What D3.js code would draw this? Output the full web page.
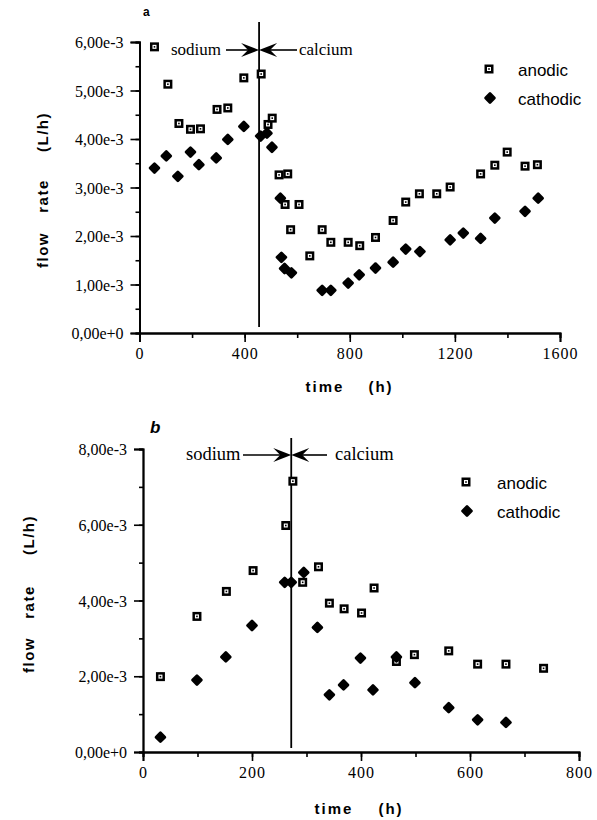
<!DOCTYPE html>
<html>
<head>
<meta charset="utf-8">
<script src="https://cdn.jsdelivr.net/npm/d3@7"></script>
<style>
  html, body { margin: 0; padding: 0; background: #fff; }
  svg { display: block; }
  .serif { font-family: "Liberation Serif", "DejaVu Serif", "Times New Roman", serif; }
  .sans { font-family: "Liberation Sans", Arial, Helvetica, sans-serif; }
</style>
</head>
<body>
<svg id="chart" width="597" height="820"></svg>
<script>
// ---------- DATA ----------
// Panel a : time (h) and flow rate (L/h)
const timeA_anodic = [57,108,150,194,232,295,336,397,463,489,505,531,564,554,607,575,648,695,728,794,838,898,965,1013,1065,1131,1182,1298,1352,1399,1467,1514];
const flowA_anodic = [5.90e-3,5.13e-3,4.32e-3,4.20e-3,4.21e-3,4.61e-3,4.64e-3,5.26e-3,5.34e-3,4.30e-3,4.43e-3,3.26e-3,3.28e-3,2.65e-3,2.65e-3,2.13e-3,1.59e-3,2.13e-3,1.87e-3,1.87e-3,1.80e-3,1.97e-3,2.32e-3,2.70e-3,2.87e-3,2.87e-3,3.01e-3,3.28e-3,3.46e-3,3.73e-3,3.44e-3,3.47e-3];
const timeA_cathodic = [57,102,146,194,226,292,336,397,461,485,504,536,540,552,578,695,728,794,836,898,965,1013,1067,1182,1232,1298,1352,1467,1517];
const flowA_cathodic = [3.40e-3,3.65e-3,3.23e-3,3.73e-3,3.47e-3,3.61e-3,3.99e-3,4.26e-3,4.06e-3,4.12e-3,3.83e-3,2.78e-3,1.56e-3,1.33e-3,1.24e-3,0.88e-3,0.88e-3,1.03e-3,1.20e-3,1.34e-3,1.46e-3,1.73e-3,1.68e-3,1.92e-3,2.06e-3,1.95e-3,2.37e-3,2.51e-3,2.78e-3];
const switchA = 455;

// Panel b
const timeB_anodic = [32,99,153,202,262,275,293,322,342,369,401,424,465,498,561,614,666,735];
const flowB_anodic = [1.99e-3,3.58e-3,4.24e-3,4.79e-3,5.98e-3,7.15e-3,4.48e-3,4.89e-3,3.93e-3,3.78e-3,3.67e-3,4.33e-3,2.39e-3,2.57e-3,2.67e-3,2.32e-3,2.32e-3,2.21e-3];
const timeB_cathodic = [32,99,152,200,260,272,295,320,342,368,399,422,465,499,561,614,666];
const flowB_cathodic = [0.39e-3,1.90e-3,2.51e-3,3.34e-3,4.48e-3,4.48e-3,4.74e-3,3.29e-3,1.51e-3,1.77e-3,2.48e-3,1.64e-3,2.51e-3,1.83e-3,1.17e-3,0.85e-3,0.78e-3];
const switchB = 272;

// Tick values / labels
const xTicksA = [0,400,800,1200,1600];
const xTicksB = [0,200,400,600,800];
const yTicksA = [0,1e-3,2e-3,3e-3,4e-3,5e-3,6e-3];
const yTicksB = [0,2e-3,4e-3,6e-3,8e-3];
const yLabelsA = ["0,00e+0","1,00e-3","2,00e-3","3,00e-3","4,00e-3","5,00e-3","6,00e-3"];
const yLabelsB = ["0,00e+0","2,00e-3","4,00e-3","6,00e-3","8,00e-3"];
const seriesNames = ["anodic","cathodic"];

// ---------- DRAW ----------
const svg = d3.select("#chart");

function squareMarker(g, x, y) {
  g.append("rect").attr("x", x-4.5).attr("y", y-4.5).attr("width", 9).attr("height", 9).attr("fill", "#000");
  g.append("rect").attr("x", x-2).attr("y", y-2).attr("width", 4).attr("height", 4).attr("fill", "#fff");
  g.append("rect").attr("x", x-0.8).attr("y", y-0.8).attr("width", 1.6).attr("height", 1.6).attr("fill", "#000");
}
function diamondMarker(g, x, y) {
  const r = 4.4;
  g.append("path")
    .attr("d", `M${x},${y-r}L${x+r},${y}L${x},${y+r}L${x-r},${y}Z`)
    .attr("fill", "#000").attr("stroke", "#000").attr("stroke-width", 2.8)
    .attr("stroke-linejoin", "round");
}
function arrowHead(g, tipX, y, dir) {
  const L = 18, H = 7, N = 11;
  g.append("path")
    .attr("d", `M${tipX},${y}L${tipX - dir*L},${y-H}L${tipX - dir*N},${y}L${tipX - dir*L},${y+H}Z`)
    .attr("fill", "#000");
}

function panel(cfg) {
  const g = svg.append("g");
  const x = d3.scaleLinear().domain(cfg.xDomain).range([cfg.left, cfg.right]);
  const y = d3.scaleLinear().domain(cfg.yDomain).range([cfg.bottom, cfg.top]);

  // x axis
  const xMinor = d3.range(cfg.xDomain[0], cfg.xDomain[1] + 1, cfg.xMinorStep);
  const xAxisMinor = d3.axisBottom(x).tickValues(xMinor).tickSize(5).tickFormat("");
  const xAxisMajor = d3.axisBottom(x).tickValues(cfg.xTicks).tickSize(9).tickFormat(d3.format("d"));
  const gxm = g.append("g").attr("transform", `translate(0,${cfg.bottom})`).call(xAxisMinor);
  const gx = g.append("g").attr("transform", `translate(0,${cfg.bottom})`).call(xAxisMajor);
  [gxm, gx].forEach(s => {
    s.attr("font-family", null).attr("font-size", null);
    s.select(".domain").attr("stroke", "#000").attr("stroke-width", 1.8);
    s.selectAll(".tick line").attr("stroke", "#000").attr("stroke-width", 1.6);
  });
  gx.selectAll(".tick text").attr("class", "serif").attr("fill", "#000")
    .style("font-size", "16px").style("letter-spacing", "1px").attr("dy", "1.05em").attr("y", 9);

  // y axis
  const yMinor = d3.range(0, cfg.yDomain[1] + 1e-9, cfg.yMinorStep);
  const yAxisMinor = d3.axisLeft(y).tickValues(yMinor).tickSize(4).tickFormat("");
  const yAxisMajor = d3.axisLeft(y).tickValues(cfg.yTicks).tickSize(9)
    .tickFormat((d, i) => cfg.yLabels[i]);
  const gym = g.append("g").attr("transform", `translate(${cfg.left},0)`).call(yAxisMinor);
  const gy = g.append("g").attr("transform", `translate(${cfg.left},0)`).call(yAxisMajor);
  [gym, gy].forEach(s => {
    s.attr("font-family", null).attr("font-size", null);
    s.select(".domain").attr("stroke", "#000").attr("stroke-width", 1.8);
    s.selectAll(".tick line").attr("stroke", "#000").attr("stroke-width", 1.6);
  });
  gy.selectAll(".tick text").attr("class", "serif").attr("fill", "#000")
    .style("font-size", "16px").attr("x", -16).attr("dy", "0.35em");

  // switch line
  const sx = x(cfg.switchT);
  g.append("line")
    .attr("x1", sx).attr("x2", sx)
    .attr("y1", cfg.lineTop).attr("y2", cfg.lineBottom)
    .attr("stroke", "#000").attr("stroke-width", 1.8);

  // sodium / calcium annotations
  g.append("text").attr("class", "serif").attr("x", cfg.sodiumX).attr("y", cfg.annoY + 5)
    .style("font-size", cfg.annoSize + "px").attr("fill", "#000").text("sodium");
  g.append("line").attr("x1", cfg.sodiumLineStart).attr("x2", sx - 10).attr("y1", cfg.annoY).attr("y2", cfg.annoY)
    .attr("stroke", "#000").attr("stroke-width", 1.6);
  arrowHead(g, sx, cfg.annoY, 1);
  g.append("line").attr("x1", sx + 10).attr("x2", cfg.calciumLineEnd).attr("y1", cfg.annoY).attr("y2", cfg.annoY)
    .attr("stroke", "#000").attr("stroke-width", 1.6);
  arrowHead(g, sx, cfg.annoY, -1);
  g.append("text").attr("class", "serif").attr("x", cfg.calciumX).attr("y", cfg.annoY + 5)
    .style("font-size", cfg.annoSize + "px").attr("fill", "#000").text("calcium");

  // points
  const gp = g.append("g");
  cfg.tA.forEach((t, i) => squareMarker(gp, x(t), y(cfg.vA[i])));
  cfg.tC.forEach((t, i) => diamondMarker(gp, x(t), y(cfg.vC[i])));

  // legend
  squareMarker(g, cfg.legX, cfg.legY1);
  diamondMarker(g, cfg.legX + 1, cfg.legY2);
  g.append("text").attr("class", "sans").attr("x", cfg.legTextX).attr("y", cfg.legY1 + 7)
    .style("font-size", "17px").attr("fill", "#000").text(seriesNames[0]);
  g.append("text").attr("class", "sans").attr("x", cfg.legTextX).attr("y", cfg.legY2 + 7)
    .style("font-size", "17px").attr("fill", "#000").text(seriesNames[1]);

  // axis titles
  g.append("text").attr("class", "sans").attr("x", cfg.timeX).attr("y", cfg.timeY).attr("text-anchor", "middle")
    .style("font-weight", "bold").style("font-size", "15px").style("letter-spacing", "2px")
    .attr("fill", "#000").text("time");
  g.append("text").attr("class", "sans").attr("x", cfg.hX).attr("y", cfg.timeY).attr("text-anchor", "middle")
    .style("font-weight", "bold").style("font-size", "15px").style("letter-spacing", "2px")
    .attr("fill", "#000").text("(h)");

  const yl = g.append("g").attr("transform", `translate(${cfg.ylabX},0) rotate(-90)`);
  [["flow", cfg.flowY], ["rate", cfg.rateY], ["(L/h)", cfg.lhY]].forEach(([s, cy]) => {
    yl.append("text").attr("class", "sans").attr("x", -cy).attr("y", 0).attr("dy", "0.35em").attr("text-anchor", "middle")
      .style("font-weight", "bold").style("font-size", "15px").style("letter-spacing", "1.5px")
      .attr("fill", "#000").text(s);
  });

  // panel label
  g.append("text").attr("class", "sans").attr("x", cfg.labelX).attr("y", cfg.labelY)
    .style("font-weight", "bold").style("font-style", cfg.labelStyle)
    .style("font-size", cfg.labelSize + "px").attr("fill", "#000").text(cfg.label);
}

panel({
  xDomain: [0, 1600], yDomain: [0, 6e-3],
  left: 139.5, right: 560, top: 42, bottom: 333,
  xTicks: xTicksA, xMinorStep: 200, yTicks: yTicksA, yLabels: yLabelsA, yMinorStep: 0.5e-3,
  switchT: switchA, lineTop: 22, lineBottom: 327,
  annoY: 50, annoSize: 17, sodiumX: 171, sodiumLineStart: 226, calciumLineEnd: 297, calciumX: 299,
  tA: timeA_anodic, vA: flowA_anodic, tC: timeA_cathodic, vC: flowA_cathodic,
  legX: 489, legY1: 69, legY2: 98, legTextX: 518,
  timeX: 325, hX: 381, timeY: 392,
  ylabX: 43, flowY: 250, rateY: 196, lhY: 132,
  label: "a", labelX: 143, labelY: 16, labelSize: 12, labelStyle: "normal"
});

panel({
  xDomain: [0, 800], yDomain: [0, 8e-3],
  left: 143, right: 579, top: 449, bottom: 752,
  xTicks: xTicksB, xMinorStep: 100, yTicks: yTicksB, yLabels: yLabelsB, yMinorStep: 1e-3,
  switchT: switchB, lineTop: 438, lineBottom: 748,
  annoY: 455, annoSize: 18.5, sodiumX: 186, sodiumLineStart: 243, calciumLineEnd: 327, calciumX: 335,
  tA: timeB_anodic, vA: flowB_anodic, tC: timeB_cathodic, vC: flowB_cathodic,
  legX: 466, legY1: 482, legY2: 511, legTextX: 497,
  timeX: 334, hX: 391, timeY: 814,
  ylabX: 29, flowY: 655, rateY: 602, lhY: 535,
  label: "b", labelX: 150, labelY: 433, labelSize: 17, labelStyle: "italic"
});
</script>
</body>
</html>
